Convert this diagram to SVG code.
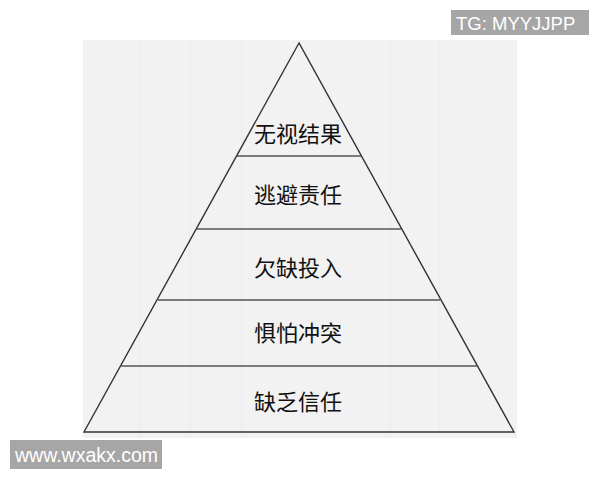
<svg xmlns="http://www.w3.org/2000/svg" width="600" height="480" viewBox="0 0 600 480">
<style>
.lbl{font-family:"Noto Sans CJK SC","Noto Sans",sans-serif;font-size:22px;fill:#111;text-anchor:middle;dominant-baseline:central}
.edge{stroke:#333;stroke-width:1.4;fill:none}
.sep{stroke:#555;stroke-width:1.3}
.grid{stroke:#ebebeb;stroke-width:1}
.wm{font-family:"Liberation Sans",Arial,sans-serif;fill:#fff}
</style>
<rect width="600" height="480" fill="#fff"/>
<rect x="83" y="40" width="434" height="398" fill="#f2f2f2"/>
<g class="grid">
<line x1="140" y1="40" x2="140" y2="438"/>
<line x1="190" y1="40" x2="190" y2="438"/>
<line x1="242" y1="40" x2="242" y2="438"/>
<line x1="390" y1="40" x2="390" y2="438"/>
<line x1="440" y1="40" x2="440" y2="438"/>
</g>
<g id="pyramid">
<polygon class="edge" points="299,43 84,432 514,432"/>
</g>
<g id="connectors">
<line class="sep" x1="237" y1="156" x2="361" y2="156"/>
<line class="sep" x1="197" y1="229" x2="401" y2="229"/>
<line class="sep" x1="158" y1="300" x2="440" y2="300"/>
<line class="sep" x1="120" y1="366" x2="477" y2="366"/>
</g>
<g id="n1"><text class="lbl" x="298" y="132">无视结果</text></g>
<g id="n2"><text class="lbl" x="298" y="193">逃避责任</text></g>
<g id="n3"><text class="lbl" x="298" y="266">欠缺投入</text></g>
<g id="n4"><text class="lbl" x="298" y="331">惧怕冲突</text></g>
<g id="n5"><text class="lbl" x="298" y="400">缺乏信任</text></g>
<g id="wm1">
<rect x="451" y="10" width="138" height="25" fill="#a6a6a6"/>
<text class="wm" x="456" y="30" font-size="18.5">TG: MYYJJPP</text>
</g>
<g id="wm2">
<rect x="10" y="440" width="152" height="29" fill="#a6a6a6"/>
<text class="wm" x="15" y="462" font-size="19.5">www.wxakx.com</text>
</g>
</svg>
